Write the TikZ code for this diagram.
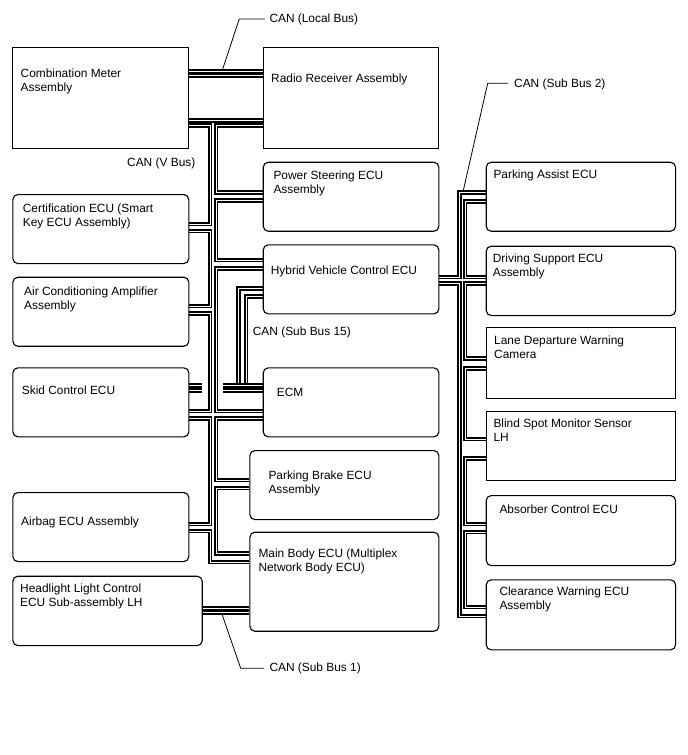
\documentclass[tikz,border=0pt]{standalone}
\usepackage{fontspec}
\setmainfont{Liberation Sans}
\newcommand{\twol}[2]{\vtop{\hbox{#1}\hbox{#2}}}
\pgfdeclarelayer{bg}
\pgfsetlayers{bg,main}
\begin{document}
\begin{tikzpicture}[x=1pt,y=-1pt,
  box/.style={draw, line width=1.1pt, rounded corners=5pt, anchor=north west, inner sep=0pt, minimum width=176pt, minimum height=69pt},
  sqbox/.style={box, sharp corners},
  lbl/.style={anchor=base west, inner sep=0pt, font=\fontsize{11.9}{14}\selectfont},
  bus/.style={draw=black, line width=1.9pt, double=white, double distance=0.9pt},
  leader/.style={draw, line width=0.8pt}]
\useasboundingbox (0,0) rectangle (688,755);

% ---------- boxes ----------
\node[sqbox, minimum height=100.4pt] (meter) at (12.3,47.3) {};
\node[sqbox, minimum width=175.6pt, minimum height=100.4pt] (radio) at (262.7,47.3) {};
\node[box, minimum width=175.6pt] (ps) at (262.7,161.7) {};
\node[box, minimum width=175.6pt] (hv) at (262.7,244.3) {};
\node[box, minimum width=175.6pt] (ecm) at (262.7,367.3) {};
\node[box, minimum width=189pt] (pb) at (249.3,450) {};
\node[box, minimum width=189pt, minimum height=99pt] (mb) at (249.3,531.7) {};
\node[box] (cert) at (12.3,194) {};
\node[box] (ac) at (12.3,276.7) {};
\node[box] (skid) at (12.3,367.3) {};
\node[box] (airbag) at (12.3,492) {};
\node[box, minimum width=189.4pt, minimum height=69.3pt] (head) at (12.3,575.7) {};
\node[box, minimum width=189.3pt] (pa) at (485.7,161.7) {};
\node[box, minimum width=189.3pt, minimum height=69.3pt] (ds) at (485.7,245.7) {};
\node[sqbox, minimum width=189.3pt, minimum height=71.6pt] (ldw) at (485.7,326.7) {};
\node[sqbox, minimum width=189.3pt] (bsm) at (485.7,411) {};
\node[box, minimum width=189.3pt, minimum height=70pt] (abs) at (485.7,495) {};
\node[box, minimum width=189.3pt, minimum height=70pt] (cw) at (485.7,579.3) {};

% ---------- texts ----------
\node[lbl] (t-meter) at (20.5,77.5) {\twol{Combination Meter}{Assembly}};
\node[lbl] (t-radio) at (271,82.5) {Radio Receiver Assembly};
\node[lbl] (t-ps) at (273.3,179) {\twol{Power Steering ECU}{Assembly}};
\node[lbl] (t-hv) at (270.7,274) {Hybrid Vehicle Control ECU};
\node[lbl] (t-ecm) at (276.7,396.7) {ECM};
\node[lbl] (t-pb) at (268.3,479.3) {\twol{Parking Brake ECU}{Assembly}};
\node[lbl] (t-mb) at (258.3,557.3) {\twol{Main Body ECU (Multiplex}{Network Body ECU)}};
\node[lbl] (t-cert) at (22.7,212.3) {\twol{Certification ECU (Smart}{Key ECU Assembly)}};
\node[lbl] (t-ac) at (24,295) {\twol{Air Conditioning Amplifier}{Assembly}};
\node[lbl] (t-skid) at (21.7,394) {Skid Control ECU};
\node[lbl] (t-airbag) at (21,525) {Airbag ECU Assembly};
\node[lbl] (t-head) at (20,592) {\twol{Headlight Light Control}{ECU Sub-assembly LH}};
\node[lbl] (t-pa) at (493.3,178.3) {Parking Assist ECU};
\node[lbl] (t-ds) at (492.7,262.7) {\twol{Driving Support ECU}{Assembly}};
\node[lbl] (t-ldw) at (494,344) {\twol{Lane Departure Warning}{Camera}};
\node[lbl] (t-bsm) at (493.3,427.3) {\twol{Blind Spot Monitor Sensor}{LH}};
\node[lbl] (t-abs) at (499.3,513.3) {Absorber Control ECU};
\node[lbl] (t-cw) at (499.3,595) {\twol{Clearance Warning ECU}{Assembly}};

\node[lbl] (l-local) at (269.3,22.3) {CAN (Local Bus)};
\node[lbl] (l-v) at (127,166.3) {CAN (V Bus)};
\node[lbl] (l-s15) at (252.7,335) {CAN (Sub Bus 15)};
\node[lbl] (l-s2) at (514,87.8) {CAN (Sub Bus 2)};
\node[lbl] (l-s1) at (269.3,671) {CAN (Sub Bus 1)};

% ---------- buses ----------
\begin{pgfonlayer}{bg}
% Local bus
\draw[bus] (meter.east |- 0,71.3) -- (radio.west |- 0,71.3);
\draw[bus] (meter.east |- 0,75.9) -- (radio.west |- 0,75.9);
% V bus, meter - radio
\draw[bus] (meter.east |- 0,120.6) -- (radio.west |- 0,120.6);
% V bus, left chain
\draw[bus] (meter.east |- 0,125.2) -| (210,224) -- (cert.east |- 0,224);
\draw[bus] (cert.east |- 0,231) -| (210,306) -- (ac.east |- 0,306);
\draw[bus] (ac.east |- 0,313.5) -| (210,411) -- (skid.east |- 0,411);
\draw[bus] (skid.east |- 0,418.5) -| (210,524) -- (airbag.east |- 0,524);
\draw[bus] (airbag.east |- 0,531) -| (210,562) -- (mb.west |- 0,562);
% V bus, right chain
\draw[bus] (radio.west |- 0,125.2) -| (216,192.5) -- (ps.west |- 0,192.5);
\draw[bus] (ps.west |- 0,200.5) -| (216,260) -- (hv.west |- 0,260);
\draw[bus] (hv.west |- 0,268.5) -| (216,411) -- (ecm.west |- 0,411);
\draw[bus] (ecm.west |- 0,418.5) -| (216,480) -- (pb.west |- 0,480);
\draw[bus] (pb.west |- 0,488) -| (216,553.5) -- (mb.west |- 0,553.5);
% Sub bus 15
\draw[bus] (hv.west |- 0,288.3) -| (238.5,384);
\draw[bus] (hv.west |- 0,296.5) -| (246,384);
\draw[bus] (223,385.6) -- (ecm.west |- 0,385.6);
\draw[bus] (223,390.2) -- (ecm.west |- 0,390.2);
\draw[bus] (skid.east |- 0,385.6) -- (202,385.6);
\draw[bus] (skid.east |- 0,390.2) -- (202,390.2);
% Sub bus 1
\draw[bus] (head.east |- 0,608) -- (mb.west |- 0,608);
\draw[bus] (head.east |- 0,612.6) -- (mb.west |- 0,612.6);
% Sub bus 2
\draw[bus] (hv.east |- 0,277) -| (459.3,192.8) -- (pa.west |- 0,192.8);
\draw[bus] (hv.east |- 0,283.6) -| (459.3,616) -- (cw.west |- 0,616);
\draw[bus] (pa.west |- 0,201.3) -| (465,277) -- (ds.west |- 0,277);
\draw[bus] (ds.west |- 0,283.6) -| (465,358.5) -- (ldw.west |- 0,358.5);
\draw[bus] (ldw.west |- 0,368.5) -| (465,439) -- (bsm.west |- 0,439);
\draw[bus] (bsm.west |- 0,458.5) -| (465,524) -- (abs.west |- 0,524);
\draw[bus] (abs.west |- 0,532) -| (465,607) -- (cw.west |- 0,607);
\end{pgfonlayer}

% ---------- leaders ----------
\coordinate (a1) at (222.7,69);
\coordinate (a2) at (239.3,19);
\coordinate (a3) at (265,19);
\draw[leader] (a1) -- (a2) -- (a3);
\coordinate (b1) at (463.3,190.5);
\coordinate (b2) at (487.7,83.3);
\coordinate (b3) at (508,83.3);
\draw[leader] (b1) -- (b2) -- (b3);
\coordinate (c1) at (222.3,615);
\coordinate (c2) at (240.7,668.3);
\coordinate (c3) at (264,668.3);
\draw[leader] (c1) -- (c2) -- (c3);
\end{tikzpicture}
\end{document}
